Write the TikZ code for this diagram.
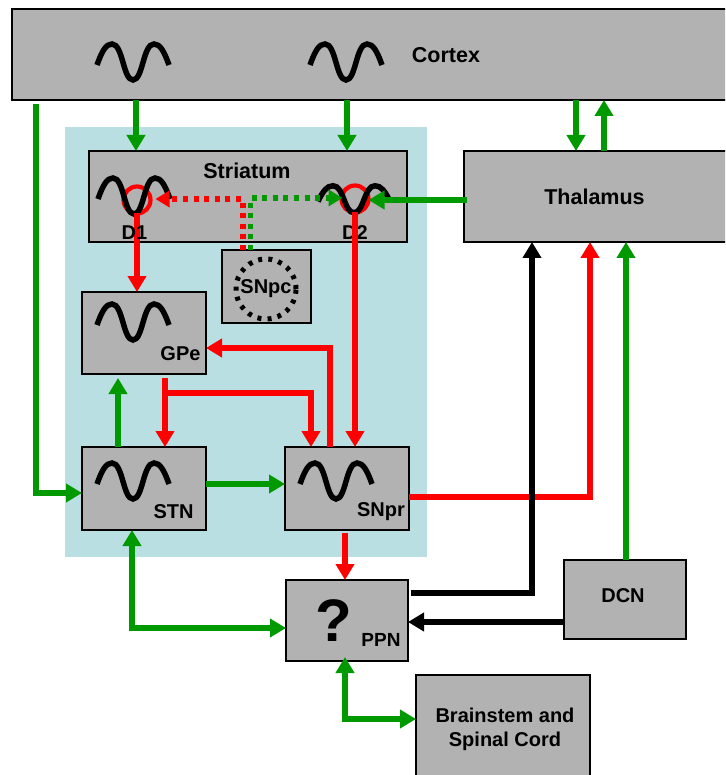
\documentclass[tikz,border=0pt]{standalone}
\usepackage{fontspec}
\setmainfont{Liberation Sans}
\usetikzlibrary{arrows.meta,calc}
\definecolor{gbox}{HTML}{B2B2B2}
\definecolor{tealbg}{HTML}{B9DFE2}
\definecolor{gr}{HTML}{009900}
\definecolor{rd}{HTML}{FF0000}
\tikzset{
  box/.style={draw=black,fill=gbox,line width=1.1pt,rectangle,inner sep=0pt,outer sep=0pt},
  lab/.style={font=\fontsize{20}{24}\selectfont\bfseries,inner sep=0pt,outer sep=0pt,text=black},
  big/.style={font=\fontsize{21.5}{24}\selectfont\bfseries,inner sep=0pt,outer sep=0pt,text=black},
  conn/.style={line width=5.8pt,-{Triangle[width=18pt,length=16pt]}},
  both/.style={line width=5.8pt,{Triangle[width=18pt,length=16pt]}-{Triangle[width=18pt,length=16pt]}},
  dots/.style={line width=5.2pt,dash pattern=on 5pt off 5.6pt,-{Triangle[width=16pt,length=14pt]}},
  rcirc/.style={circle,draw=rd,line width=4.2pt,minimum size=27pt,inner sep=0pt,outer sep=0pt},
  wave/.pic={\draw[line width=5.5pt,black]
    (0,22) .. controls (5,8) and (9,1) .. (15,1)
    .. controls (26,1) and (26,37) .. (36,37)
    .. controls (46,37) and (46,1) .. (57,1)
    .. controls (63,1) and (67,8) .. (72,22);}
}
\begin{document}
\begin{tikzpicture}[x=1pt,y=-1pt]
\useasboundingbox (0,0) rectangle (725,775);
\clip (0,0) rectangle (725,775);
\node[fill=tealbg,minimum width=362pt,minimum height=430pt,inner sep=0pt] (bg) at (246,342) {};
\node[box,minimum width=728pt,minimum height=91pt] (cortex) at (376,54.5) {};
\node[box,minimum width=318pt,minimum height=91pt] (striatum) at (248,196.5) {};
\node[box,minimum width=276pt,minimum height=91pt] (thalamus) at (602,196.5) {};
\node[box,minimum width=89pt,minimum height=73pt] (snpc) at (266.5,286.5) {};
\node[box,minimum width=124pt,minimum height=82pt] (gpe) at (144,333) {};
\node[box,minimum width=124pt,minimum height=83pt] (stn) at (144,488.5) {};
\node[box,minimum width=124pt,minimum height=83pt] (snpr) at (347,488.5) {};
\node[box,minimum width=122pt,minimum height=81pt] (ppn) at (347,620.5) {};
\node[box,minimum width=122pt,minimum height=79pt] (dcn) at (625,599.5) {};
\node[box,minimum width=174pt,minimum height=115pt] (brain) at (503,732.5) {};
% red rings
\node[rcirc] (d1r) at (137,200) {};
\node[rcirc] (d2r) at (355,199) {};
% D2 label lies under the red line
\node[lab] (d2lab) at (355,232.5) {D2};
% waves
\pic at (97,43) {wave};
\pic at (310,43) {wave};
\pic at (98,177) {wave};
\pic[yscale=0.75] at (318,185) {wave};
\pic at (97,303) {wave};
\pic at (97,462) {wave};
\pic at (300,462) {wave};
% connectors
\draw[conn,gr] ($(cortex.south)+(-240,0)$) -- ($(striatum.north)+(-112,0)$);
\draw[conn,gr] ($(cortex.south)+(-29,0)$) -- ($(striatum.north)+(99,0)$);
\draw[conn,gr] ($(cortex.south)+(200,0)$) -- ($(thalamus.north)+(-26,0)$);
\draw[conn,gr] ($(thalamus.north)+(2,0)$) -- ($(cortex.south)+(228,0)$);
\draw[conn,gr] ($(thalamus.west)+(3,3.5)$) -- ($(d2r.east)+(0,1)$);
\draw[conn,rd] (d1r.south) -- ($(gpe.north)+(-7,0)$);
\draw[conn,rd] (d2r.south) -- ($(snpr.north)+(8,0)$);
\draw[dots,rd] ($(snpc.north)+(-23.5,0)$) |- ($(d1r.east)+(5,-1)$);
\draw[dots,gr] ($(snpc.north)+(-16,0)$) |- ($(d2r.west)+(1,-1)$);
\draw[conn,rd] ($(snpr.north)+(-17,0)$) |- ($(gpe.east)+(0,15)$);
\draw[conn,rd] ($(gpe.south)+(21,4)$) -- ($(stn.north)+(21,0)$);
\draw[conn,rd] ($(gpe.south)+(21,19)$) -| ($(snpr.north)+(-36,0)$);
\draw[conn,gr] ($(stn.north)+(-26,0)$) -- ($(gpe.south)+(-26,4)$);
\draw[conn,gr] ($(stn.east)+(0,-4.5)$) -- ($(snpr.west)+(0,-4.5)$);
\draw[conn,gr] ($(cortex.south)+(-340,4)$) |- ($(stn.west)+(0,4.5)$);
\draw[conn,rd] ($(snpr.east)+(0,8.5)$) -| ($(thalamus.south)+(-12,0)$);
\draw[conn,black] ($(ppn.east)+(3,-27.5)$) -| ($(thalamus.south)+(-70,0)$);
\draw[conn,black] ($(dcn.west)+(0,22.5)$) -- ($(ppn.east)+(0,1.5)$);
\draw[conn,gr] ($(dcn.north)+(1,0)$) -- ($(thalamus.south)+(24,0)$);
\draw[conn,rd] ($(snpr.south)+(-2,3)$) -- ($(ppn.north)+(-2,0)$);
\draw[both,gr] ($(stn.south)+(-12,0)$) |- ($(ppn.west)+(0,7.5)$);
\draw[both,gr] ($(ppn.south)+(-2,-4)$) |- ($(brain.west)+(0,-13.5)$);
% SNpc ring
\node[circle,draw=black,line width=5pt,dash pattern=on 4pt off 6.2pt,minimum size=60pt,inner sep=0pt,outer sep=0pt] (snpcr) at (266,289) {};
% labels
\node[big] (cortexlab) at (446,55) {Cortex};
\node[big] (striatumlab) at (247,171) {Striatum};
\node[big] (thallab) at (594.5,197) {Thalamus};
\node[lab] (d1lab) at (134.5,232.5) {D1};
\node[lab] (snpclab) at (266,289) {SNpc};
\node[lab] (gpelab) at (180.5,354) {GPe};
\node[lab] (stnlab) at (173.5,512) {STN};
\node[lab] (snprlab) at (381,512) {SNpr};
\node[font=\fontsize{60}{60}\selectfont\bfseries,inner sep=0pt,text=black] (q) at (334,621) {?};
\node[lab,font=\fontsize{19}{24}\selectfont\bfseries] (ppnlab) at (381,640) {PPN};
\node[lab] (dcnlab) at (623,596) {DCN};
\node[lab,align=center,font=\fontsize{20}{24}\selectfont\bfseries] (brainlab) at (505,729) {Brainstem and\\Spinal Cord};
\end{tikzpicture}
\end{document}
